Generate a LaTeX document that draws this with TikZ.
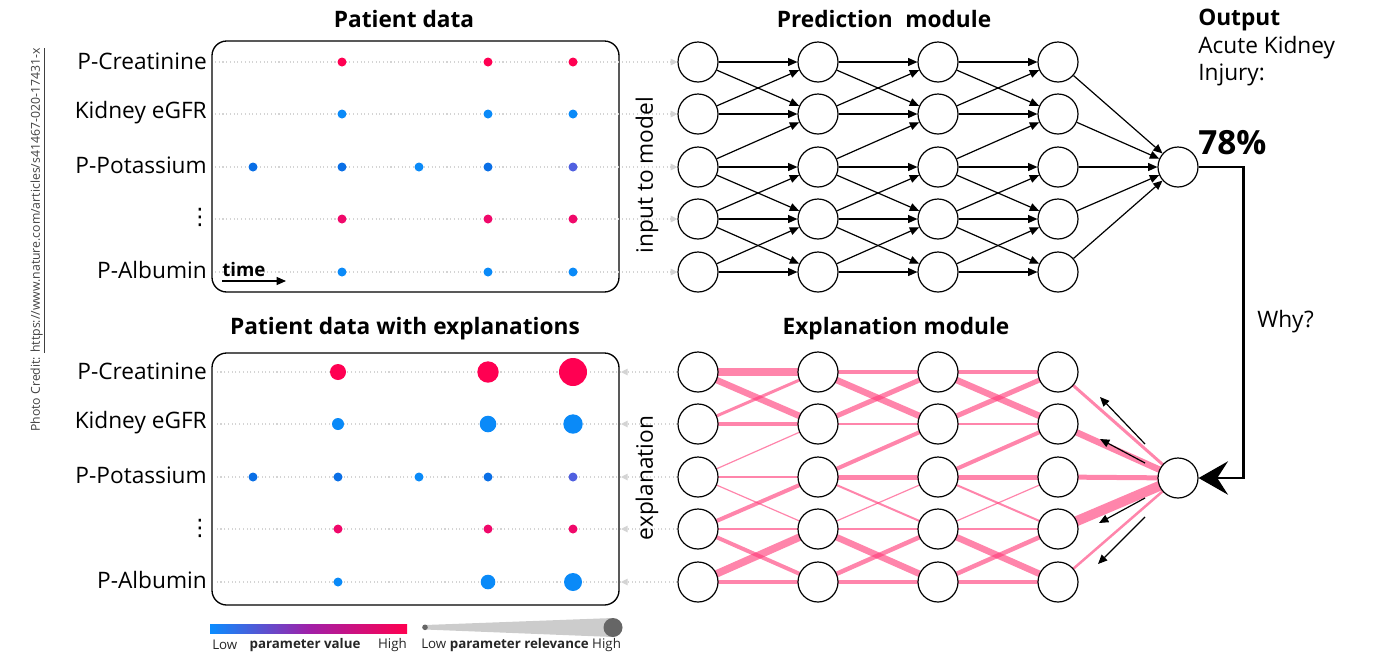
\documentclass[tikz,border=0pt]{standalone}
\usepackage{fontspec}
\setmainfont{Open Sans}
\newfontfamily\symfont{DejaVu Sans}
\usetikzlibrary{arrows.meta,calc}
\pgfdeclarelayer{bg}
\pgfsetlayers{bg,main}
\definecolor{redc}{HTML}{FF0052}
\definecolor{pinkc}{HTML}{F0086A}
\definecolor{bluec}{HTML}{0A8AF8}
\definecolor{dbluec}{HTML}{0A6FE6}
\definecolor{pbluec}{HTML}{5060E0}
\definecolor{edgepink}{HTML}{FF3A78}
\definecolor{legblue}{HTML}{0A8CFF}
\definecolor{legpurple}{HTML}{A020A8}
\definecolor{legred}{HTML}{FF0050}
\definecolor{relgray}{HTML}{CCCCCC}
\definecolor{reldark}{HTML}{666666}
\definecolor{dotgray}{HTML}{D4D4D4}
\begin{document}
\begin{tikzpicture}[x=0.75pt,y=-0.75pt,
  neuron/.style={circle,draw,line width=0.9pt,fill=white,minimum size=30pt,inner sep=0pt},
  arr/.style={line width=0.9pt,-{Triangle[length=7pt,width=6pt]}},
  dotl/.style={dotgray,line width=0.8pt,dotted},
  dottip/.style={-{Triangle[length=5pt,width=5pt,color=dotgray]}},
  lbl/.style={font=\fontsize{17}{20}\selectfont,inner sep=0pt},
  ttl/.style={font=\fontsize{17}{20}\selectfont\bfseries,inner sep=0pt},
  leg/.style={font=\fontsize{10}{12}\selectfont,inner sep=0pt,text=black!85},
  pinkedge/.style={draw=edgepink,draw opacity=0.62},
  box/.style={line width=1pt,rounded corners=11pt},
]
\useasboundingbox (0,0) rectangle (1376,654);

% ---------- networks ----------
\foreach \y [count=\r] in {62,114,167,219,272} {
  \foreach \x [count=\c] in {698,818,938,1058}
    \node[neuron] (a\c\r) at (\x,\y) {};
}
\node[neuron] (ao) at (1178,167) {};
\foreach \y [count=\r] in {372,424,477,529,582} {
  \foreach \x [count=\c] in {698,818,938,1058}
    \node[neuron] (b\c\r) at (\x,\y) {};
}
\node[neuron] (bo) at (1178,478) {};

% prediction edges
\foreach \c/\n in {1/2,2/3,3/4}
  \foreach \i/\j in {1/1,1/2,2/1,2/2,3/2,3/3,3/4,4/3,4/4,4/5,5/4,5/5}
    \draw[arr] (a\c\i) -- (a\n\j);
\foreach \i in {1,...,5} \draw[arr] (a4\i) -- (ao);

% explanation edges
\begin{pgfonlayer}{bg}
\foreach \c/\n/\i/\j/\w in {
  1/2/1/1/7.5, 1/2/1/2/6.5, 1/2/2/1/3, 1/2/2/2/4, 1/2/3/2/1.2, 1/2/3/3/1.2,
  1/2/3/4/1.2, 1/2/4/3/4, 1/2/4/4/2, 1/2/4/5/4, 1/2/5/4/7.5, 1/2/5/5/4,
  2/3/1/1/4, 2/3/1/2/6.5, 2/3/2/1/5, 2/3/2/2/1.2, 2/3/3/2/4, 2/3/3/3/5,
  2/3/3/4/2, 2/3/4/3/1.2, 2/3/4/4/2, 2/3/4/5/6.5, 2/3/5/4/4.5, 2/3/5/5/4,
  3/4/1/1/4, 3/4/1/2/6.5, 3/4/2/1/5, 3/4/2/2/1.2, 3/4/3/2/4, 3/4/3/3/5,
  3/4/3/4/2, 3/4/4/3/1.2, 3/4/4/4/2, 3/4/4/5/6.5, 3/4/5/4/4.5, 3/4/5/5/4}
  \draw[pinkedge,line width=\w*0.75pt] (b\c\i.center) -- (b\n\j.center);
\foreach \i/\w in {1/3,2/6.5,3/5,4/10,5/2.5}
  \draw[pinkedge,line width=\w*0.75pt] (b4\i.center) -- (bo.center);
\end{pgfonlayer}

% backward arrows
\coordinate (e1s) at (1145,444); \coordinate (e1e) at (1100,397);
\coordinate (e2s) at (1145,463); \coordinate (e2e) at (1100,439);
\coordinate (e3s) at (1145,498); \coordinate (e3e) at (1099,523);
\coordinate (e4s) at (1145,517); \coordinate (e4e) at (1098,564);
\foreach \k in {1,...,4} \draw[arr] (e\k s) -- (e\k e);

% feedback
\draw[line width=2.2pt,-{Stealth[length=22pt,width=25pt,inset=8pt]}]
  (ao.east) -- ++(45,0) |- (bo.east);
\node[lbl,anchor=west] (why) at (1257,322) {Why?};

% ---------- panels ----------
\draw[box] (212,41) rectangle (619,292);
\draw[box] (212,353) rectangle (619,605);

\foreach \y [count=\r] in {62,114,167,219,272} {
  \coordinate (ts\r) at (215,\y);
  \draw[dotl,dottip] (ts\r) -- (a1\r);
}
\foreach \y [count=\r] in {372,424,477,529,582} {
  \coordinate (ls\r) at (215,\y);
  \coordinate (le\r) at (621,\y);
  \draw[dotl,dottip] (b1\r) -- (le\r);
  \draw[dotl] (le\r) -- (ls\r);
}

% top dots
\foreach \x/\y/\col/\rr in {
  342/62/redc/4.5, 488/62/redc/4.5, 573/62/redc/4.5,
  342/114/bluec/4.5, 488/114/bluec/4.5, 573/114/bluec/4.5,
  253/167/dbluec/4.5, 342/167/dbluec/4.5, 419/167/bluec/4.5, 488/167/dbluec/4.5, 573/167/pbluec/4.5,
  342/219/pinkc/4.5, 488/219/pinkc/4.5, 573/219/pinkc/4.5,
  342/272/bluec/4.5, 488/272/bluec/4.5, 573/272/bluec/4.5}
  \fill[\col] (\x,\y) circle (\rr);
% lower dots
\foreach \x/\y/\col/\rr in {
  338/372/redc/8, 488/372/redc/10.7, 573/372/redc/14,
  338/424/bluec/6, 488/424/bluec/8.3, 573/424/bluec/9.7,
  253/477/dbluec/4.5, 338/477/dbluec/4.5, 419/477/bluec/4.5, 488/477/dbluec/4.5, 573/477/pbluec/4.5,
  338/529/pinkc/4.5, 488/529/pinkc/4.5, 573/529/pinkc/4.5,
  338/582/bluec/4.5, 488/582/bluec/7.3, 573/582/bluec/9}
  \fill[\col] (\x,\y) circle (\rr);

% row labels
\foreach \y/\t [count=\k] in {61/P-Creatinine,113/Kidney eGFR,165/P-Potassium,270/P-Albumin}
  \node[lbl,anchor=east] (la\k) at (207,\y) {\t};
\node[lbl,font=\fontsize{17}{20}\symfont] (la5) at (200,217) {⋮};
\foreach \y/\t [count=\k] in {371/P-Creatinine,423/Kidney eGFR,475/P-Potassium,580/P-Albumin}
  \node[lbl,anchor=east] (lb\k) at (207,\y) {\t};
\node[lbl,font=\fontsize{17}{20}\symfont] (lb5) at (200,528) {⋮};

% time arrow
\node[font=\fontsize{14}{16}\selectfont\bfseries,inner sep=0pt,anchor=west] (tm) at (222,269) {time};
\coordinate (t0) at (222,281);
\coordinate (t1) at (286,281);
\draw[arr] (t0) -- (t1);

% titles
\node[ttl] (ti1) at (404,19) {Patient data};
\node[ttl] (ti2) at (884,19) {Prediction\hspace{0.55em}module};
\node[ttl] (ti3) at (405,329) {Patient data with explanations};
\node[ttl] (ti4) at (896,329) {Explanation module};
\node[ttl,anchor=west] (ti5) at (1198,20) {Output};
\node[lbl,anchor=west] (ti6) at (1198,48) {Acute Kidney};
\node[lbl,anchor=west] (ti7) at (1198,75) {Injury:};
\node[font=\fontsize{25}{30}\selectfont\bfseries,inner sep=0pt,anchor=west] (pct) at (1198,143) {78\%};

\node[lbl,rotate=90] (itm) at (647,175) {input to model};
\node[lbl,rotate=90] (expl) at (647,478) {explanation};

% legend
\shade[left color=legblue,right color=legred,middle color=legpurple] (210,624) rectangle (407,633);
\node[leg,anchor=west] (lg1) at (212,645) {Low};
\node[leg] (lg2) at (305,645) {\bfseries parameter value};
\node[leg,anchor=east] (lg3) at (407,645) {High};
\fill[relgray] (425,625) -- (613,618) -- (613,637) -- (425,629.5) -- cycle;
\fill[reldark] (425,627.3) circle (2.8);
\fill[reldark] (613,627.5) circle (9.5);
\node[leg,anchor=west] (lg4) at (421,645) {Low \textbf{parameter relevance} High};

% credit
\node[rotate=90,font=\fontsize{9.2}{11}\selectfont,text=black!75,inner sep=0pt] (pc) at (38,240)
  {Photo Credit: \underline{https://www.nature.com/articles/s41467-020-17431-x}};
\end{tikzpicture}
\end{document}
